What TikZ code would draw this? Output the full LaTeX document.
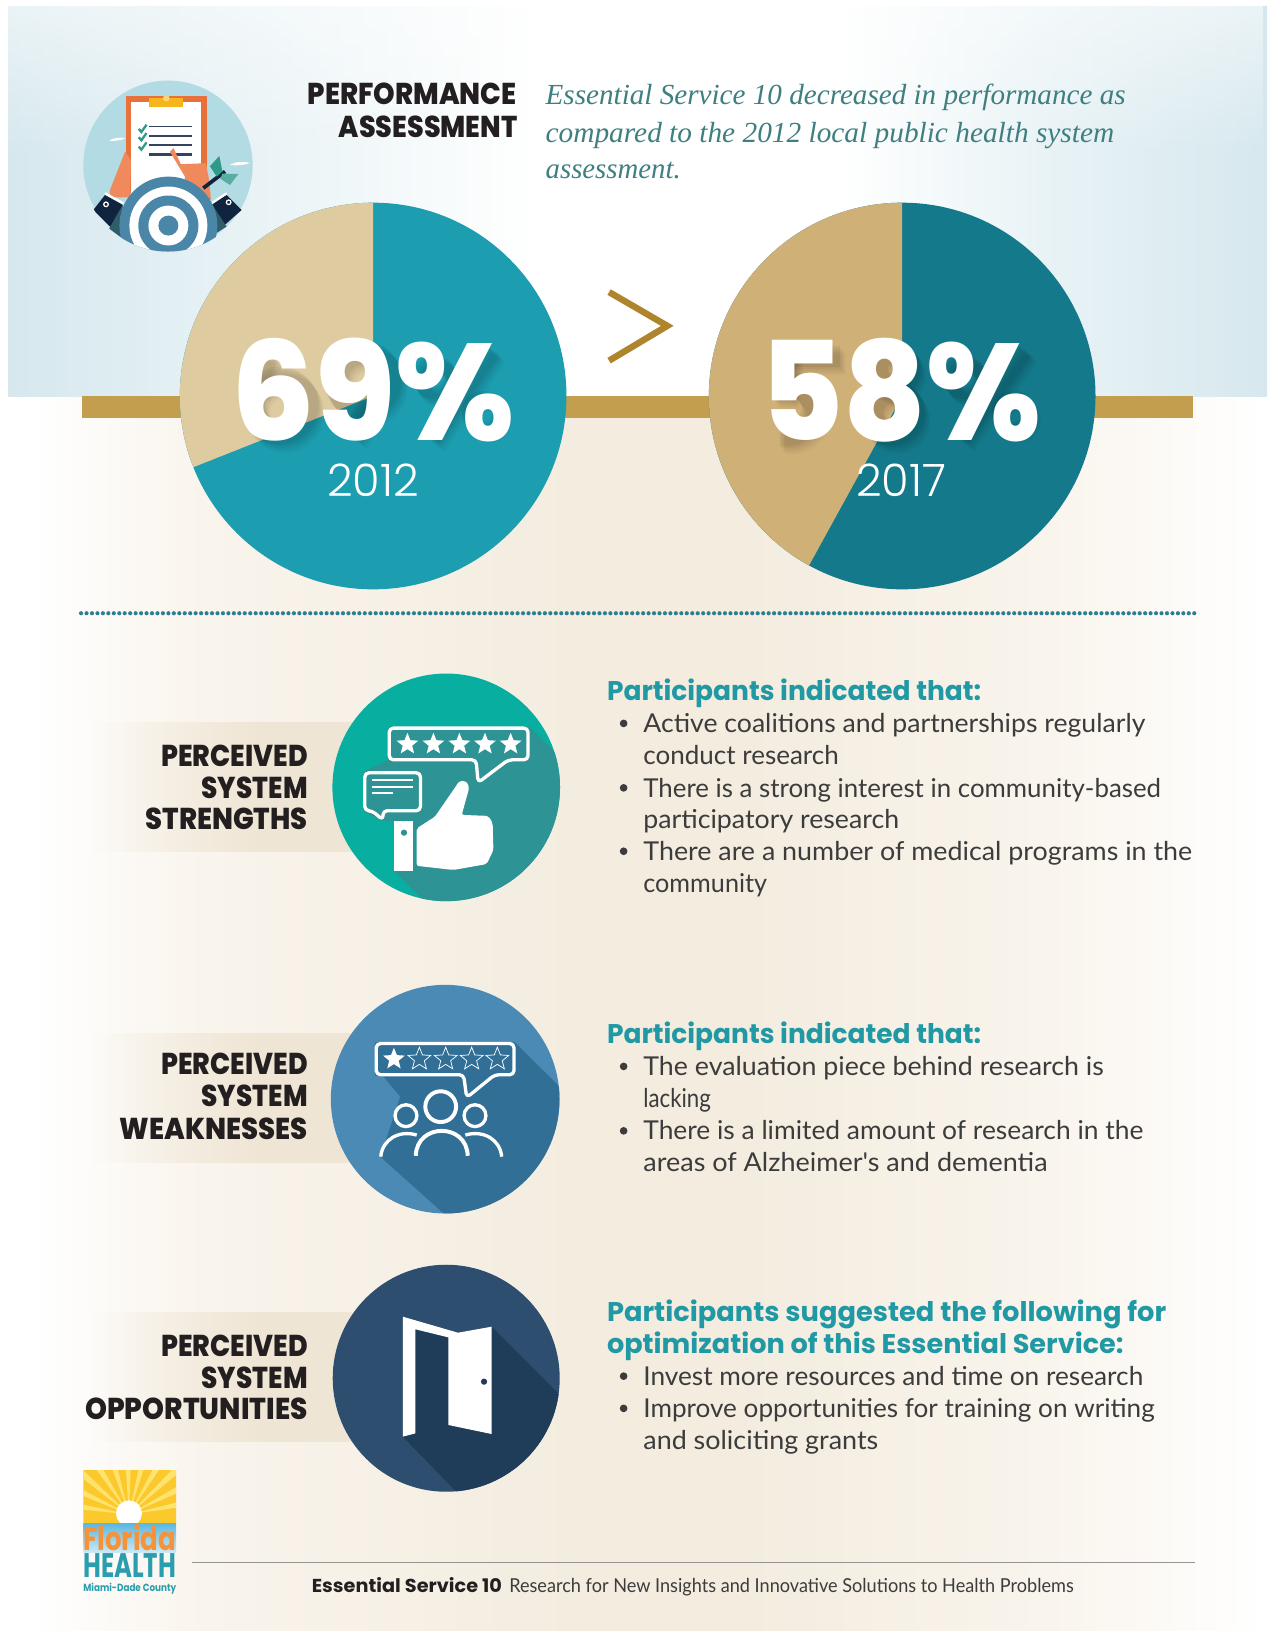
\documentclass[tikz,border=0pt]{standalone}
\usepackage{fontspec}
\usepackage{graphicx}
\usetikzlibrary{shapes.geometric,fadings}
\setmainfont{Lato}
\newfontfamily\popf{Poppins}
\newfontfamily\popx{Poppins ExtraBold}
\newfontfamily\thinf{Poppins Light}
\newfontfamily\bodyf{Lato}
\newfontfamily\serf{Liberation Serif}
\definecolor{bluebg}{HTML}{D6E8EE}
\definecolor{bluemid}{HTML}{E9F3F6}
\definecolor{beigebg}{HTML}{F3ECDF}
\definecolor{beigemid}{HTML}{F9F4EC}
\definecolor{goldbar}{HTML}{C39E4F}
\definecolor{goldgt}{HTML}{AE852C}
\definecolor{pieteal}{HTML}{1C9DB0}
\definecolor{pietan}{HTML}{DFCBA0}
\definecolor{pieteald}{HTML}{14798A}
\definecolor{pietand}{HTML}{CFB077}
\definecolor{dotc}{HTML}{2C7E92}
\definecolor{bandc}{HTML}{EFE5D4}
\definecolor{labelc}{HTML}{231F20}
\definecolor{headc}{HTML}{2199A5}
\definecolor{bodyc}{HTML}{3C3C3C}
\definecolor{italc}{HTML}{3F7F80}
\definecolor{ca}{HTML}{08AFA0}
\definecolor{cas}{HTML}{2E9394}
\definecolor{cb}{HTML}{4A8AB5}
\definecolor{cbs}{HTML}{316F96}
\definecolor{cc}{HTML}{2D4E6E}
\definecolor{ccs}{HTML}{1F3C58}
\definecolor{icbg}{HTML}{B3DBE3}
\definecolor{clipo}{HTML}{E8703A}
\definecolor{skin}{HTML}{F08A5D}
\definecolor{tgt}{HTML}{4A86A8}
\definecolor{navy}{HTML}{10233F}
\definecolor{sleeve}{HTML}{2F5D6A}
\definecolor{leaf}{HTML}{2E9A8A}
\definecolor{tabc}{HTML}{F7B51C}
\definecolor{sunY}{HTML}{FBC92C}
\definecolor{sunL}{HTML}{FFE36E}
\definecolor{flor}{HTML}{F5923A}
\definecolor{heal}{HTML}{2A9DAE}
\definecolor{strip}{HTML}{5BB8E0}
\pgfdeclarehorizontalshading{blueband}{100bp}{color(0bp)=(bluebg);color(25bp)=(bluebg);color(35bp)=(bluemid);color(46bp)=(white);color(58bp)=(white);color(66bp)=(bluemid);color(75bp)=(bluebg);color(100bp)=(bluebg)}
\pgfdeclarehorizontalshading{beigeband}{100bp}{color(0bp)=(white);color(26bp)=(white);color(33bp)=(beigemid);color(48bp)=(beigebg);color(54bp)=(beigebg);color(66bp)=(beigemid);color(75bp)=(white);color(100bp)=(white)}
\newcommand\fw[2]{\resizebox{#1pt}{\height}{#2}}
\tikzset{
  txt/.style={inner sep=0pt,outer sep=0pt},
  lab/.style={txt,anchor=base east,text=labelc,font=\popx\fontsize{29}{29}\selectfont},
  hed/.style={txt,anchor=base west,text=headc,font=\popf\bfseries\fontsize{26}{26}\selectfont},
  bod/.style={txt,anchor=base west,text=bodyc,font=\bodyf\fontsize{25}{25}\selectfont},
  ital/.style={txt,anchor=base west,text=italc,font=\serf\itshape\fontsize{28}{28}\selectfont},
  big/.style={txt,anchor=base west,font=\popx\fontsize{132}{132}\selectfont},
  yr/.style={txt,anchor=base,text=white,font=\thinf\fontsize{43}{43}\selectfont},
  blt/.style={circle,fill=bodyc,inner sep=0pt,minimum size=7.4pt},
  fullstar/.style={star,star points=5,star point ratio=2.3,fill=white,inner sep=0pt,minimum size=22pt},
  openstar/.style={star,star points=5,star point ratio=2.3,draw=white,line width=.7pt,inner sep=0pt,minimum size=23pt},
  bub/.style={draw=white,line width=3.2pt,line join=round},
}
\newcommand\bl[4]{\node[bod] (#1) at (619,#2) {\resizebox{\dimexpr#3pt-619pt}{\height}{#4}};}
\newcommand\hl[4]{\node[hed] (#1) at (584,#2) {\resizebox{\dimexpr#3pt-584pt}{\height}{#4}};}
\begin{document}
\begin{tikzpicture}[x=1pt,y=-1pt]
\useasboundingbox (0,0) rectangle (1219,1569.2);
% backgrounds
\fill[white] (0,0) rectangle (1219,1569.2);
\shade[shading=beigeband] (8,381) rectangle (1219,1569.2);
\shade[shading=blueband] (8,6) rectangle (1219,381);
\fill[white,path fading=south,fill opacity=.5] (8,6) rectangle (1219,150);
\fill[goldbar] (79,381) rectangle (1148,402);
% top round icon
\fill[icbg] (161.6,159) circle (81.5);
\fill[white] (105,135.5) .. controls (110,132) and (116,132) .. (120.5,133) .. controls (116,135) and (110,136) .. (105,135.5) -- cycle;
\fill[white] (221,158.7) .. controls (228,155) and (236,155) .. (240.5,157) .. controls (234,159) and (228,159.5) .. (221,158.7) -- cycle;
\begin{scope}
\clip (161.6,159) circle (83);
\fill[clipo] (120.9,92) rectangle (198.8,186);
\fill[white] (126.4,97.8) rectangle (193.3,186);
\fill[tabc] (143.7,94.6) rectangle (175.8,102.6);
\fill[tabc!60!white] (160,94.5) circle (3.2);
\draw[navy!85,line width=1.7pt] (143.4,121.8) -- (184.4,121.8);
\draw[navy!85,line width=2.8pt] (143.4,130.8) -- (184.4,130.8);
\draw[navy!85,line width=1.7pt] (143.4,139.8) -- (184.4,139.8);
\draw[navy!85,line width=2.6pt] (143.4,148.5) -- (184.4,148.5);
\foreach \yy in {124,132,141}{\draw[leaf,line width=2.2pt] (133.5,\yy) -- (136,\yy+3) -- (141,\yy-4);}
\fill[skin] (163.5,146) -- (167,142.5) -- (174,158) -- (198,157) -- (201,172) -- (203,192) -- (175,192) -- (178,170) -- cycle;
\fill[skin] (120.3,146) -- (126,154) -- (125,190) -- (105.8,190) -- (105.8,182.8) -- cycle;
\draw[navy,line width=3.6pt] (195.6,181) -- (216.5,165);
\fill[leaf] (211,150) -- (202,160) -- (208.5,170) -- (214,165) -- cycle;
\fill[leaf!80] (229.3,167.4) -- (214,167) -- (212,172) -- (221.3,178) -- cycle;
\fill[navy] (89.8,202) -- (101,187.6) -- (118,197) -- (116,228) -- cycle;
\fill[sleeve] (105,220) -- (118,197) -- (116,228) -- cycle;
\fill[navy] (232.5,202) -- (218,187.6) -- (203.7,196) -- (205.3,226) -- cycle;
\fill[sleeve] (218,218) -- (203.7,196) -- (205.3,226) -- cycle;
\draw[white,line width=2.2pt] (101,186) -- (118.7,195.6);
\draw[white,line width=2.2pt] (218,186) -- (203.7,195.6);
\draw[white,line width=1.2pt] (102,196.6) circle (2.2);
\draw[white,line width=1.2pt] (220,194.6) circle (2.2);
\fill[tgt] (162,217) circle (47.1);
\fill[white] (162,217) circle (37.5);
\fill[tgt] (162,217) circle (28.9);
\fill[white] (162,217) circle (19.2);
\fill[tgt] (162,217) circle (9.6);
\end{scope}
% heading
\node[lab] (perf) at (497,101) {\fw{201}{PERFORMANCE}};
\node[lab] (asse) at (498,132) {\fw{172}{ASSESSMENT}};
\node[ital] (i1) at (525,101) {\resizebox{558pt}{\height}{Essential Service 10 decreased in performance as}};
\node[ital] (i2) at (525,137) {\resizebox{547pt}{\height}{compared to the 2012 local public health system}};
\node[ital] (i3) at (525,172) {\resizebox{130pt}{\height}{assessment.}};
% pies
\fill[pieteal] (359,381) circle (186);
\fill[pietan] (359,381) -- (359,195) arc[start angle=-90,end angle=-201.6,radius=186] -- cycle;
\fill[pieteald] (868,381) circle (186);
\fill[pietand] (868,381) -- (868,195) arc[start angle=-90,end angle=-241.2,radius=186] -- cycle;
\draw[goldgt,line width=6.2pt,miter limit=10] (586,281) -- (642,313.5) -- (586,347);
% soft shadow of the percent labels, drawn as shapes
\foreach \d/\o in {11/.025,9/.03,7/.035,5/.04,3/.05}{
  \begin{scope}[shift={(\d*.7pt,-\d*1pt)},draw opacity=\o,black]
  \draw[line width=23pt] (267,387) circle (26);
  \draw[line width=23pt] (347,362) circle (26);
  \draw[line width=22pt] (254,338) -- (242,372);
  \draw[line width=22pt] (358,380) -- (336,415);
  \draw[line width=15pt] (472,334) -- (414,419);
  \draw[line width=12pt] (416,360) circle (15);
  \draw[line width=12pt] (463,394) circle (15);
  \draw[line width=23pt] (856,352) circle (16);
  \draw[line width=23pt] (856,394) circle (20);
  \draw[line width=20pt] (750,340) -- (806,340);
  \draw[line width=20pt] (756,336) -- (752,382);
  \draw[line width=22pt] (755,365) arc[start angle=-90,end angle=90,radius=25] -- (748,415);
  \draw[line width=15pt] (984,334) -- (924,419);
  \draw[line width=12pt] (926,360) circle (15);
  \draw[line width=12pt] (973,394) circle (15);
  \end{scope}
}
\node[big,text=white] (p69) at (223,424) {\resizebox{272pt}{\height}{69\%}};
\node[big,text=white] (p58) at (732,424) {\resizebox{270pt}{\height}{58\%}};
\node[yr] (y12) at (359,478) {2012};
\node[yr] (y17) at (867,478) {2017};
% dotted rule
\coordinate (dl) at (78,590);
\coordinate (dr) at (1151,590);
\draw[dotc,line width=4pt,line cap=round,dash pattern=on 0pt off 5.25pt] (dl) -- (dr);
% bands
\foreach \yt in {695,994,1262}{
  \fill[bandc,path fading=west] (90,\yt) rectangle (260,\yt+125);
  \fill[bandc] (259.5,\yt) rectangle (340,\yt+125);
}
% circle 1
\fill[ca] (429.3,757.5) circle (109.5);
\begin{scope}
\clip (429.3,757.5) circle (109.5);
\fill[cas] (373.6,699) -- (509.3,699) -- (700,890) -- (572,1030) -- (379.4,838) -- (379,790) -- (368,790) -- (350.2,781) -- (350.2,742.4) -- (373.6,731) -- cycle;
\end{scope}
\draw[bub,rounded corners=4pt] (374.5,700.5) -- (508,700.5) -- (508,731) -- (489,731) -- (460,753) -- (458,731) -- (374.5,731) -- cycle;
\foreach \n/\xs in {a/392,b/417,c/442,d/466.6,e/491.3}{\node[fullstar] (sa\n) at (\xs,716) {};}
\draw[bub,rounded corners=4pt] (351,743.5) -- (404.5,743.5) -- (404.5,780) -- (368.5,780) -- (368.5,789) -- (358,780) -- (351,780) -- cycle;
\foreach \yy/\xe in {750.5/397.7,756.9/397.7,763.3/378.4}{\draw[white,line width=1.7pt] (357.6,\yy) -- (\xe,\yy);}
\fill[white] (379.4,789.9) rectangle (397.7,837.7);
\fill[cas] (388.7,801.1) circle (3);
\fill[white,rounded corners=2pt] (400.9,797) -- (418.5,785.7) -- (439.4,755.3) .. controls (442,751) and (449,749) .. (451.3,758.5) -- (444.2,784) -- (469.9,785) -- (474,792) -- (474.7,817.8) -- (468.3,831.3) -- (436.2,837) -- (400.9,833) -- cycle;
% circle 2
\fill[cb] (428.3,1057.5) circle (110);
\begin{scope}
\clip (428.3,1057.5) circle (110);
\fill[cbs] (360.8,1002.8) -- (495.5,1002.8) -- (700,1207) -- (566,1292) -- (366,1113) -- (385,1055) -- (369,1036) -- (360.8,1034.9) -- cycle;
\end{scope}
\draw[bub,rounded corners=4pt] (362,1004) -- (494.5,1004) -- (494.5,1034) -- (476,1034) -- (449,1056) -- (446,1034) -- (362,1034) -- cycle;
\node[fullstar] (sb1) at (379,1019) {};
\foreach \n/\xs in {2/403.5,3/428.8,4/453.8,5/478.5}{\node[openstar] (sb\n) at (\xs,1019) {};}
\draw[white,line width=3.8pt] (424,1064.7) circle (14.8);
\draw[white,line width=3.2pt] (390.6,1073.4) circle (10.5);
\draw[white,line width=3.2pt] (457,1073.4) circle (10.5);
\draw[white,line width=3.8pt] (400,1112) .. controls (401,1080) and (449,1080) .. (450,1112);
\draw[white,line width=3.2pt] (366.3,1112.8) .. controls (368,1096) and (384,1087) .. (400.9,1092);
\draw[white,line width=3.2pt] (482.7,1112.8) .. controls (481,1096) and (465,1087) .. (447.7,1092);
% circle 3
\fill[cc] (429.3,1326) circle (109.2);
\begin{scope}
\clip (429.3,1326) circle (109.2);
\fill[ccs] (399.7,1279) -- (431.5,1287) -- (473,1276.4) -- (650,1453.4) -- (565,1565) -- (387.6,1382.2) -- cycle;
\end{scope}
\fill[white] (387.6,1266.8) -- (440.6,1282.2) -- (473.1,1276.4) -- (473.1,1379.7) -- (431.5,1371) -- (431.5,1286.7) -- (399.7,1278.9) -- (399.7,1379) -- (387.6,1382.2) -- cycle;
\fill[ccs] (465.7,1329.3) circle (3);
% left labels
\node[lab] (s1) at (296,737) {\fw{141}{PERCEIVED}};
\node[lab] (s2) at (296,768) {\fw{102}{SYSTEM}};
\node[lab] (s3) at (296,798) {\fw{156}{STRENGTHS}};
\node[lab] (w1) at (296,1034) {\fw{141}{PERCEIVED}};
\node[lab] (w2) at (296,1065) {\fw{102}{SYSTEM}};
\node[lab] (w3) at (296,1096) {\fw{181}{WEAKNESSES}};
\node[lab] (o1) at (296,1305) {\fw{141}{PERCEIVED}};
\node[lab] (o2) at (296,1336) {\fw{102}{SYSTEM}};
\node[lab] (o3) at (296,1366) {\fw{214}{OPPORTUNITIES}};
% right text
\hl{ha}{674}{944}{Participants indicated that:}
\node[blt] (ba1) at (600,696) {};
\bl{a1}{705}{1102}{Active coalitions and partnerships regularly}
\bl{a2}{736}{807}{conduct research}
\node[blt] (ba2) at (600,758) {};
\bl{a3}{767}{1117}{There is a strong interest in community-based}
\bl{a4}{797}{865}{participatory research}
\node[blt] (ba3) at (600,819) {};
\bl{a5}{828}{1147}{There are a number of medical programs in the}
\bl{a6}{859}{738}{community}
\hl{hb}{1004}{944}{Participants indicated that:}
\node[blt] (bb1) at (600,1026) {};
\bl{b1}{1035}{1062}{The evaluation piece behind research is}
\bl{b2}{1066}{684}{lacking}
\node[blt] (bb2) at (600,1088) {};
\bl{b3}{1096}{1100}{There is a limited amount of research in the}
\bl{b4}{1127}{1008}{areas of Alzheimer's and dementia}
\hl{hc}{1271}{1122}{Participants suggested the following for}
\hl{hd}{1302}{1081}{optimization of this Essential Service:}
\node[blt] (bc1) at (600,1324) {};
\bl{c1}{1333}{1100}{Invest more resources and time on research}
\node[blt] (bc2) at (600,1355) {};
\bl{c2}{1364}{1111}{Improve opportunities for training on writing}
\bl{c3}{1395}{845}{and soliciting grants}
% logo
\begin{scope}
\clip (80.2,1414.3) rectangle (169.5,1466);
\fill[sunY] (80,1414) rectangle (170,1466);
\foreach \a in {8,24,...,180}{\fill[sunL] (124.1,1457) -- ++(-\a:120) arc[start angle=-\a,end angle=-\a-6,radius=120] -- cycle;}
\fill[white] (124.1,1456) circle (12.5);
\end{scope}
\shade[top color=strip,bottom color=strip!30] (80.2,1465.6) rectangle (169.5,1494);
\node[txt,anchor=base west,text=flor,font=\popf\bfseries\fontsize{30}{30}\selectfont] (flo) at (80.2,1492) {\resizebox{89.3pt}{25pt}{Florida}};
\node[txt,anchor=base west,text=heal,font=\popf\bfseries\fontsize{30}{30}\selectfont] (hea) at (80.2,1517.6) {\resizebox{89.3pt}{23pt}{HEALTH}};
\node[txt,anchor=base west,text=heal,font=\popf\bfseries\fontsize{10}{10}\selectfont] (mia) at (80.2,1531) {\resizebox{89.3pt}{\height}{Miami-Dade County}};
% footer
\coordinate (fl) at (185,1503);
\coordinate (fr) at (1150,1503);
\draw[gray!80!beigebg,line width=1pt] (fl) -- (fr);
\node[txt,anchor=base west,text=labelc,font=\popf\bfseries\fontsize{18}{18}\selectfont] (fa) at (300,1532) {\resizebox{183pt}{\height}{Essential Service 10}};
\node[txt,anchor=base west,text=bodyc,font=\bodyf\fontsize{18.5}{18.5}\selectfont] (fb) at (490,1532) {\resizebox{543pt}{\height}{Research for New Insights and Innovative Solutions to Health Problems}};
\end{tikzpicture}
\end{document}
